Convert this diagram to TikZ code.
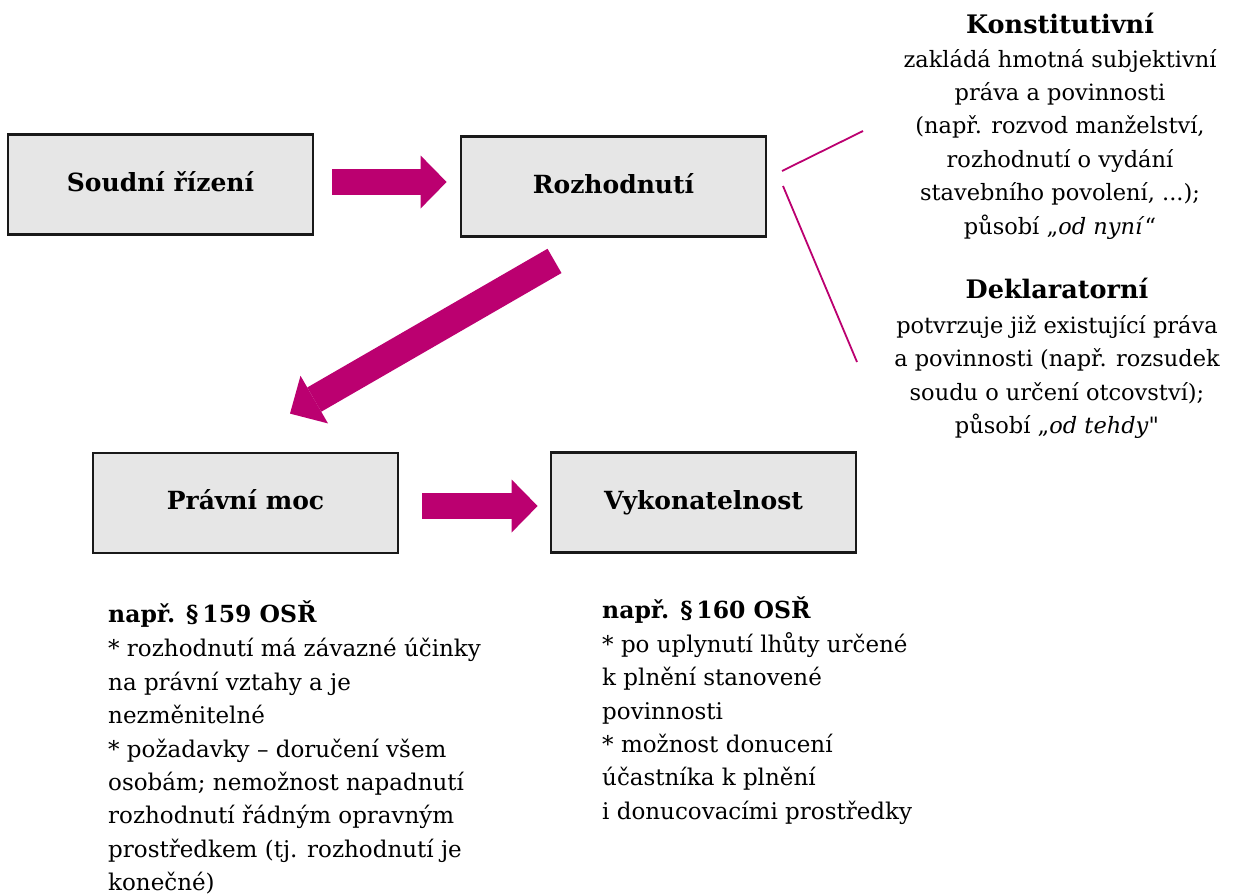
\documentclass[tikz,border=0pt]{standalone}
\usepackage{fontspec}
\setmainfont{DejaVu Serif}
\newfontfamily\rawserif{DejaVu Serif}[Ligatures=TeXOff]
\usetikzlibrary{arrows.meta,calc}
\definecolor{mag}{RGB}{187,0,112}
\definecolor{boxfill}{RGB}{230,230,230}
\definecolor{boxline}{RGB}{25,25,25}
\begin{document}
\begin{tikzpicture}[x=1pt,y=-1pt,
  box/.style={draw=boxline, line width=2.8pt, fill=boxfill, inner sep=0pt,
    minimum width=305pt, minimum height=100pt,
    font=\bfseries\fontsize{25}{30}\selectfont, text height=19pt, text depth=6pt},
  bigarrow/.style={draw=mag, line width=26pt,
    -{Triangle[length=26pt,width=53pt,line width=0pt]}},
  diagarrow/.style={draw=mag, line width=28pt,
    -{Triangle[length=28pt,width=55pt,line width=0pt]}},
  thinline/.style={draw=mag, line width=1.8pt},
  desc/.style={inner sep=0pt, align=center, font=\fontsize{22.5}{33.4}\selectfont},
  note/.style={inner sep=0pt, align=left, font=\fontsize{23}{33.4}\selectfont}]
\useasboundingbox (0,0) rectangle (1236,894);
\fill[white] (0,0) rectangle (1236,894);

\node[box] (b1) at (160.5,184.5) {Soudní řízení};
\node[box] (b2) at (613.5,186.5) {Rozhodnutí};
\node[box] (b3) at (245.5,503) {Právní moc};
\node[box] (b4) at (703.5,502.5) {Vykonatelnost};

\draw[bigarrow, shorten <=18pt, shorten >=13pt] ([yshift=2.5pt]b1.east) -- ([yshift=2.5pt]b1.east -| b2.west);
\draw[bigarrow, shorten <=23pt, shorten >=12pt] ([yshift=-3pt]b3.east) -- ([yshift=-3pt]b3.east -| b4.west);

\coordinate (d1) at ($(b2.south)+(-59,23)$);
\coordinate (d2) at ($(b3.north)+(44.5,-38)$);
\draw[diagarrow] (d1) -- (d2);

\coordinate (l1a) at (782,171);
\coordinate (l1b) at (863,131);
\coordinate (l2a) at (783,186);
\coordinate (l2b) at (857,362);
\draw[thinline] (l1a) -- (l1b);
\draw[thinline] (l2a) -- (l2b);

\node[desc, anchor=north] (kons) at (1060,12.6) {{\bfseries\fontsize{25.5}{30}\selectfont Konstitutivní}\\[0.6pt]
zakládá hmotná subjektivní\\
práva a povinnosti\\
(např. rozvod manželství,\\
rozhodnutí o vydání\\
stavebního povolení, ...);\\
působí „\textit{od nyní}“};

\node[desc, anchor=north] (dekl) at (1057,277.6) {{\bfseries\fontsize{25.5}{30}\selectfont Deklaratorní}\\[1.7pt]
potvrzuje již existující práva\\
a povinnosti (např. rozsudek\\
soudu o určení otcovství);\\
působí „\textit{od tehdy}{\rawserif"}};

\node[note, anchor=north west] (n1) at (108,600.1) {{\bfseries\fontsize{23.5}{30}\selectfont např. §\,159 OSŘ}\\[1.3pt]
* rozhodnutí má závazné účinky\\
na právní vztahy a je\\
nezměnitelné\\
* požadavky – doručení všem\\
osobám; nemožnost napadnutí\\
rozhodnutí řádným opravným\\
prostředkem (tj. rozhodnutí je\\
konečné)};

\node[note, anchor=north west] (n2) at (602,596.1) {{\bfseries\fontsize{23.5}{30}\selectfont např. §\,160 OSŘ}\\[0.8pt]
* po uplynutí lhůty určené\\
k plnění stanovené\\
povinnosti\\
* možnost donucení\\
účastníka k plnění\\
i donucovacími prostředky};
\end{tikzpicture}
\end{document}
